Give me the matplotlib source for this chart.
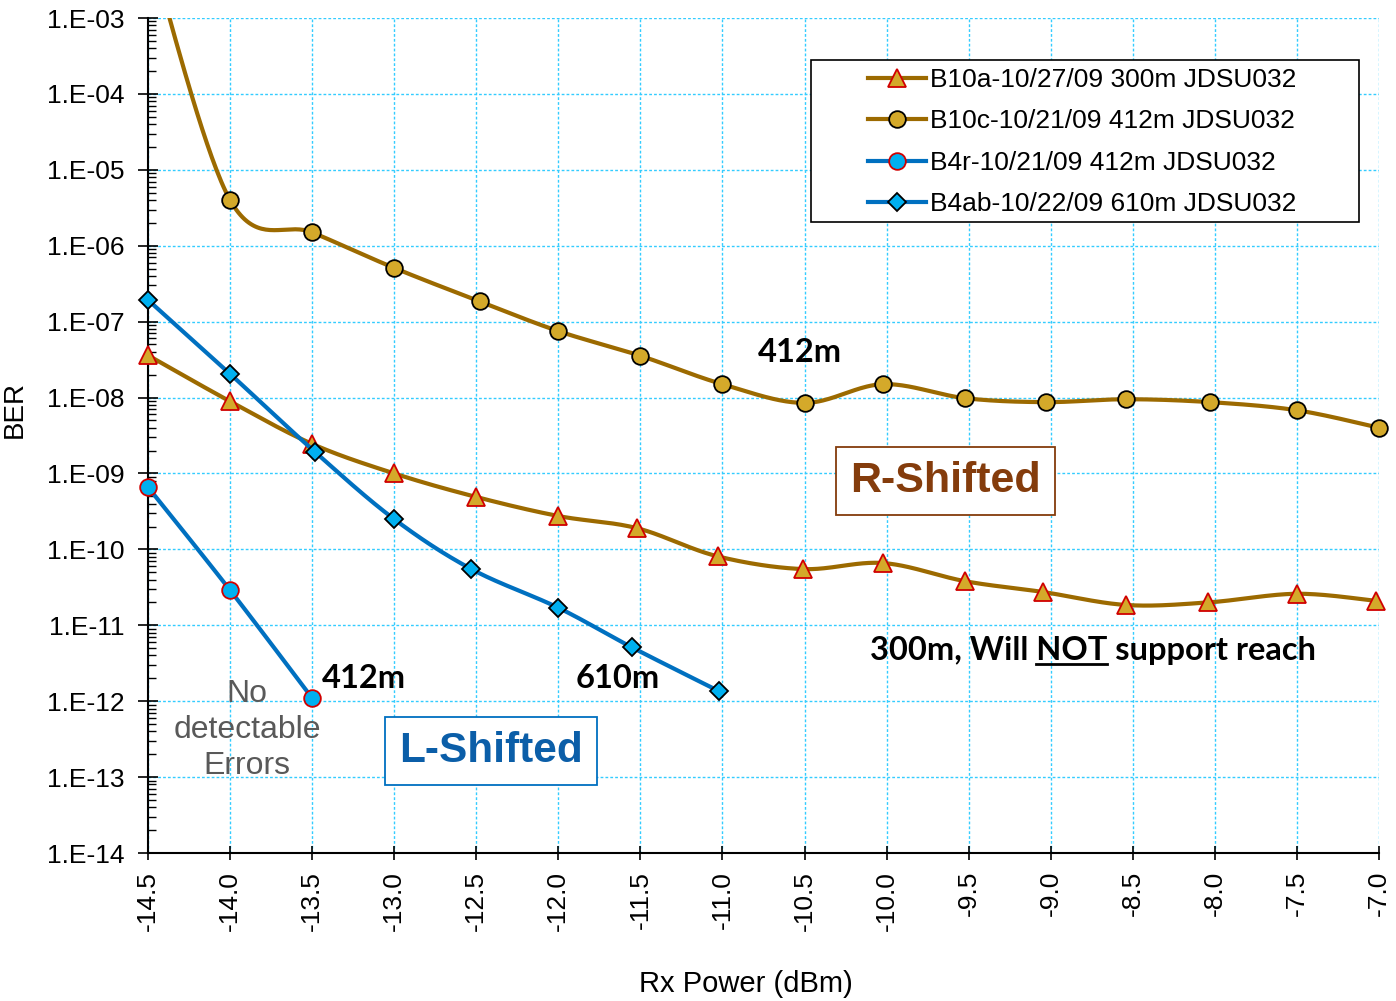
import numpy as np
import matplotlib
matplotlib.use("Agg")
import matplotlib.pyplot as plt
from matplotlib.lines import Line2D
from matplotlib.patches import Rectangle
from matplotlib.ticker import FixedLocator, FuncFormatter, LogLocator, NullFormatter

plt.rcParams['font.family'] = ['Liberation Sans', 'DejaVu Sans']

# values
b10a_x = [-14.5, -14.0, -13.5, -13.0, -12.5, -12.0, -11.52, -11.03, -10.51, -10.02,
          -9.52, -9.05, -8.54, -8.04, -7.5, -7.02]
b10a_ber = [3.6e-8, 8.9e-9, 2.45e-9, 1.0e-9, 4.9e-10, 2.75e-10, 1.9e-10, 8.1e-11, 5.5e-11,
            6.6e-11, 3.8e-11, 2.75e-11, 1.85e-11, 2.0e-11, 2.6e-11, 2.1e-11]
b10c_x = [-14.5, -14.0, -13.5, -13.0, -12.48, -12.0, -11.5, -11.0, -10.5, -10.02,
          -9.52, -9.03, -8.54, -8.03, -7.5, -7.0]
b10c_ber = [1e-2, 4e-6, 1.5e-6, 5.1e-7, 1.85e-7, 7.5e-8, 3.55e-8, 1.5e-8, 8.5e-9, 1.5e-8,
            9.8e-9, 8.7e-9, 9.5e-9, 8.7e-9, 6.8e-9, 4e-9]
b4r_x = [-14.5, -14.0, -13.5]
b4r_ber = [6.6e-10, 2.9e-11, 1.1e-12]
b4ab_x = [-14.5, -14.0, -13.48, -13.0, -12.53, -12.0, -11.55, -11.02]
b4ab_ber = [1.93e-7, 2.05e-8, 1.9e-9, 2.5e-10, 5.5e-11, 1.7e-11, 5.1e-12, 1.35e-12]

labels = ["B10a-10/27/09 300m JDSU032", "B10c-10/21/09 412m JDSU032",
          "B4r-10/21/09 412m JDSU032", "B4ab-10/22/09 610m JDSU032"]

x_ticks = np.arange(-14.5, -6.99, 0.5)

BROWN = '#9C6A00'
GOLD = '#D4A92A'
BLUE = '#0070C0'
CYAN = '#00B0F0'
RED = '#D00000'


def smooth(xs, ys, n=40):
    # Excel style smoothed line: bezier segments, done in log space
    x = np.array(xs, dtype=float)
    y = np.log10(np.array(ys, dtype=float))
    outx, outy = [], []
    t = np.linspace(0, 1, n)
    for i in range(len(x) - 1):
        i0 = max(i - 1, 0)
        i3 = min(i + 2, len(x) - 1)
        c1x = x[i] + (x[i + 1] - x[i0]) / 6
        c1y = y[i] + (y[i + 1] - y[i0]) / 6
        c2x = x[i + 1] - (x[i3] - x[i]) / 6
        c2y = y[i + 1] - (y[i3] - y[i]) / 6
        bx = (1 - t)**3 * x[i] + 3 * (1 - t)**2 * t * c1x + 3 * (1 - t) * t**2 * c2x + t**3 * x[i + 1]
        by = (1 - t)**3 * y[i] + 3 * (1 - t)**2 * t * c1y + 3 * (1 - t) * t**2 * c2y + t**3 * y[i + 1]
        outx.extend(bx)
        outy.extend(by)
    return np.array(outx), 10 ** np.array(outy)


fig = plt.figure(figsize=(13.96, 10.01), dpi=100)
ax = fig.add_axes([148 / 1396, 1 - 853 / 1001, (1379 - 148) / 1396, (853 - 18) / 1001])
ax.set_yscale('log')
ax.set_xlim(-14.5, -7.0)
ax.set_ylim(1e-14, 1e-3)

series = [
    (b10a_x, b10a_ber, BROWN, '^', GOLD, RED, 13),
    (b10c_x, b10c_ber, BROWN, 'o', GOLD, 'black', 12),
    (b4r_x, b4r_ber, BLUE, 'o', CYAN, RED, 12),
    (b4ab_x, b4ab_ber, BLUE, 'D', CYAN, 'black', 9),
]

handles = []
for k, (xs, ys, lc, mk, fc, ec, ms) in enumerate(series):
    sx, sy = smooth(xs, ys)
    ax.plot(sx, sy, color=lc, lw=3, zorder=3 + 2 * k, solid_capstyle='round')
    xs_a = np.array(xs)
    ys_a = np.array(ys)
    keep = ys_a <= 1e-3
    ax.plot(xs_a[keep], ys_a[keep], ls='none', marker=mk, ms=ms, mfc=fc, mec=ec,
            mew=1.3, zorder=4 + 2 * k, clip_on=False)
    handles.append(Line2D([], [], color=lc, lw=3, marker=mk, ms=ms, mfc=fc, mec=ec, mew=1.3))

ax.grid(True, which='major', color='#33CCFF', ls=(0, (2, 1.5)), lw=1, zorder=1)
ax.set_axisbelow(True)

ax.xaxis.set_major_locator(FixedLocator(x_ticks))
ax.xaxis.set_major_formatter(FuncFormatter(lambda v, p: f"{v:.1f}"))
ax.yaxis.set_major_locator(LogLocator(base=10, numticks=20))
ax.yaxis.set_minor_locator(LogLocator(base=10, subs=np.arange(2, 10), numticks=20))
ax.yaxis.set_minor_formatter(NullFormatter())
ax.yaxis.set_major_formatter(FuncFormatter(lambda v, p: f"1.E-{int(round(-np.log10(v))):02d}"))

for s in ['top', 'right']:
    ax.spines[s].set_visible(False)
for s in ['left', 'bottom']:
    ax.spines[s].set_linewidth(1.5)

ax.tick_params(axis='y', which='major', direction='inout', length=14, width=1.2, labelsize=19, pad=10)
ax.tick_params(axis='y', which='minor', direction='in', length=6, width=1)
ax.tick_params(axis='x', which='major', direction='inout', length=10, width=1.2, labelsize=19,
               pad=8, labelrotation=90)

fig.text(15 / 1396, 1 - 410 / 1001, "BER", rotation=90, ha='center', va='center', fontsize=20)
fig.text(746 / 1396, 1 - 984 / 1001, "Rx Power (dBm)", ha='center', va='center', fontsize=21)

# legend: Excel keeps a wide fixed box, so the frame is drawn separately
leg = ax.legend(handles, labels, loc='upper left', bbox_to_anchor=(868 / 1396, 1 - 68 / 1001),
                bbox_transform=fig.transFigure, borderaxespad=0, fontsize=19, frameon=False,
                handlelength=2.2, labelspacing=0.66, handletextpad=0.15, borderpad=0)
leg.set_zorder(20)
ax.add_patch(Rectangle((811 / 1396, 1 - 222 / 1001), (1359 - 811) / 1396, (222 - 60) / 1001,
                       transform=fig.transFigure, fc='white', ec='black', lw=1.2, zorder=19,
                       clip_on=False))

bold_font = ['Lato', 'DejaVu Sans']
bsize = 23.5

ax.text(-10.53, 10 ** -7.41, "412m", ha='center', va='center', fontsize=bsize,
        fontweight='bold', family=bold_font, zorder=15)
ax.text(-13.184, 10 ** -11.70, "412m", ha='center', va='center', fontsize=bsize,
        fontweight='bold', family=bold_font, zorder=15)
ax.text(-11.636, 10 ** -11.70, "610m", ha='center', va='center', fontsize=bsize,
        fontweight='bold', family=bold_font, zorder=15)
reach = ax.text(-8.742, 10 ** -11.33, "300m, Will NOT support reach", ha='center', va='center',
                fontsize=bsize, fontweight='bold', family=bold_font, zorder=15)

ax.text(-9.644, 10 ** -9.10, "R-Shifted", ha='center', va='center', fontsize=31,
        fontweight='bold', color='#843C0C', zorder=15,
        bbox=dict(boxstyle='square,pad=0.33', fc='white', ec='#843C0C', lw=1.3))
ax.text(-12.41, 10 ** -12.66, "L-Shifted", ha='center', va='center', fontsize=30.5,
        fontweight='bold', color='#0B5EA8', zorder=15,
        bbox=dict(boxstyle='square,pad=0.33', fc='white', ec=BLUE, lw=1.3))
ax.text(-13.897, 10 ** -12.38, "No\ndetectable\nErrors", ha='center', va='center', fontsize=23,
        color='#595959', linespacing=1.28, zorder=15)

# underline the word NOT
fig.canvas.draw()
r = fig.canvas.get_renderer()
full = reach.get_window_extent(r)


def text_width(s):
    t = ax.text(0, 0, s, fontsize=bsize, fontweight='bold', family=bold_font, transform=None)
    w = t.get_window_extent(r).width
    t.remove()
    return w


x_end = full.x0 + text_width("300m, Will NOT")
x_start = x_end - text_width("NOT")
y_line = full.y0 + 1
inv = fig.transFigure.inverted()
(fx0, fy), (fx1, _) = inv.transform([(x_start, y_line), (x_end, y_line)])
fig.add_artist(Line2D([fx0, fx1], [fy, fy], color='black', lw=2, transform=fig.transFigure))

fig.savefig("out.png", dpi=100)
